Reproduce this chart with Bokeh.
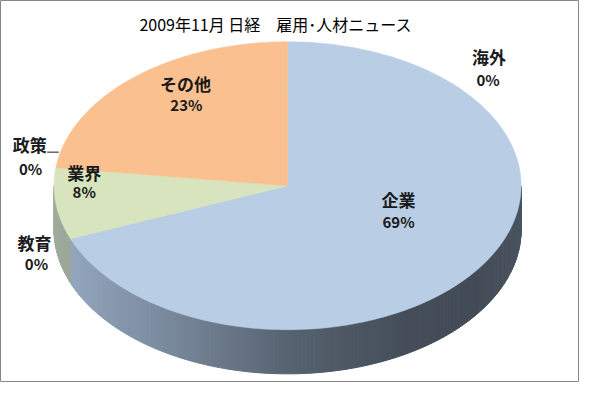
import numpy as np
from bokeh.plotting import figure
from bokeh.models import Range1d
from bokeh.embed import file_html
from bokeh.resources import INLINE
from bokeh.core.properties import value

# ---- data ----
title_text = "2009年11月 日経\u3000雇用･人材ニュース"
categories = ["海外", "企業", "教育", "業界", "政策", "その他"]
shares = [0, 69, 0, 8, 0, 23]
pct_labels = ["0%", "69%", "0%", "8%", "0%", "23%"]

# ---- style / layout ----
slice_colors = ["#b9cde5", "#b9cde5", "#b9cde5", "#d7e4bd", "#d7e4bd", "#fac090"]
label_name_x = [502, 409, 35, 86, 30, 190]
label_name_y = [58, 207, 252, 179, 150, 86]
label_pct_x = [501, 409, 37, 86, 31, 191]
label_pct_y = [82, 230, 274, 199, 175, 108]
FONT = value("Noto Sans CJK JP")
CX, CY, RX, RY, DEPTH = 295.0, 193.0, 240.0, 150.0, 46.0

p = figure(width=579, height=382, output_backend="svg", toolbar_location=None,
           x_range=Range1d(0, 595), y_range=Range1d(398, 0), min_border=0)
p.axis.visible = False
p.grid.visible = False
p.outline_line_color = "#868686"
p.outline_line_width = 1
p.background_fill_color = "white"
p.border_fill_color = "white"


def hex_rgb(h):
    h = h.lstrip("#")
    return np.array([int(h[i:i + 2], 16) for i in (0, 2, 4)], dtype=float)


def shade(u):
    stops_u = [0.0, 0.25, 0.5, 0.75, 0.9, 1.0]
    stops_f = [0.88, 0.70, 0.51, 0.40, 0.39, 0.43]
    return float(np.interp(u, stops_u, stops_f))


total = float(sum(shares))
cum = np.concatenate([[0.0], np.cumsum(shares)]) / total
starts = np.deg2rad(90 - 360 * cum[:-1])
ends = np.deg2rad(90 - 360 * cum[1:])

# ---- side walls (front half) ----
side_xs, side_ys, side_cols = [], [], []
for s, e, col, v in zip(starts, ends, slice_colors, shares):
    if v <= 0:
        continue
    n = max(int(abs(s - e) / np.deg2rad(1.0)), 2)
    th = np.linspace(s, e, n + 1)
    base = hex_rgb(col)
    for a, b in zip(th[:-1], th[1:]):
        m = 0.5 * (a + b)
        if np.sin(m) >= 0:
            continue
        xa, xb = CX + RX * np.cos(a), CX + RX * np.cos(b)
        ya, yb = CY - RY * np.sin(a), CY - RY * np.sin(b)
        u = ((0.5 * (xa + xb)) - (CX - RX)) / (2 * RX)
        if col == "#b9cde5":
            c = base * shade(u) * np.array([0.93, 0.95, 0.97])
        else:
            c = base * shade(u) * np.array([0.85, 0.85, 0.95])
        c = np.clip(c, 0, 255).astype(int)
        side_xs.append([xa, xb, xb, xa])
        side_ys.append([ya, yb, yb + DEPTH, ya + DEPTH])
        side_cols.append("#%02x%02x%02x" % tuple(c))

p.patches(side_xs, side_ys, fill_color=side_cols, line_color=side_cols, line_width=1)

# ---- top surfaces ----
top_xs, top_ys, top_cols = [], [], []
for s, e, col, v in zip(starts, ends, slice_colors, shares):
    if v <= 0:
        continue
    th = np.linspace(s, e, 200)
    top_xs.append([CX] + list(CX + RX * np.cos(th)))
    top_ys.append([CY] + list(CY - RY * np.sin(th)))
    top_cols.append(col)
p.patches(top_xs, top_ys, fill_color=top_cols, line_color=top_cols, line_width=0.5)

# ---- labels ----
p.text(x=label_name_x, y=label_name_y, text=categories, text_align="center",
       text_baseline="middle", text_font=FONT, text_font_size="17px",
       text_font_style="bold", text_color="#1a1a1a")
p.text(x=label_pct_x, y=label_pct_y, text=pct_labels, text_align="center",
       text_baseline="middle", text_font=FONT, text_font_size="15px",
       text_font_style="bold", text_color="#1a1a1a")

# leader line for 政策 label to pie edge
i = categories.index("政策")
edge_x = CX + RX * np.cos(starts[i])
p.line([label_name_x[i] + 18, edge_x + 3], [label_name_y[i] + 8, label_name_y[i] + 8],
       line_color="#1a1a1a", line_width=1)

# ---- title ----
p.text(x=[CX - 12], y=[24], text=[title_text], text_align="center",
       text_baseline="middle", text_font=FONT, text_font_size="16px",
       text_color="#000000")

open("out.html", "w").write(file_html(p, INLINE))
